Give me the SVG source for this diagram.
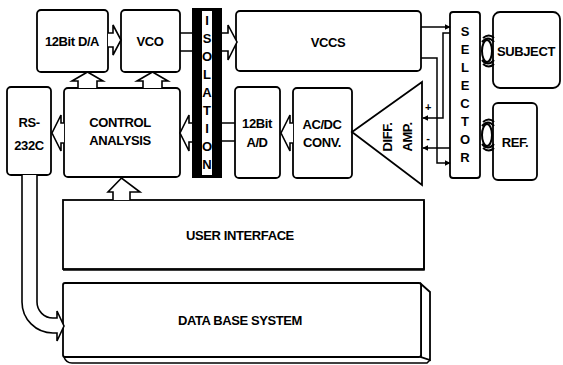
<svg xmlns="http://www.w3.org/2000/svg" width="563" height="365" viewBox="0 0 563 365">
<style>
.box{fill:#fff;stroke:#000;stroke-width:1.8}
.t{font-family:"Liberation Sans",Arial,sans-serif;font-weight:bold;font-size:13px;fill:#000;text-anchor:middle;letter-spacing:-0.4px}
.fat{fill:#fff;stroke:#000;stroke-width:1.6;stroke-linejoin:miter}
.ln{fill:none;stroke:#000;stroke-width:1.5}
.vl{font-family:"Liberation Sans",Arial,sans-serif;font-weight:bold;font-size:13px;fill:#000;text-anchor:middle}
</style>
<defs>
<marker id="ah" viewBox="0 0 10 10" refX="9" refY="5" markerWidth="6" markerHeight="6" orient="auto" markerUnits="userSpaceOnUse">
<path d="M0,0 L10,5 L0,10 z" fill="#000"/>
</marker>
</defs>
<rect width="563" height="365" fill="#fff"/>

<g id="da"><rect class="box" x="37" y="10" width="71" height="62" rx="4"/><text class="t" x="72" y="46">12Bit D/A</text></g>
<g id="vco"><rect class="box" x="121" y="10" width="59" height="62" rx="4"/><text class="t" x="150" y="46">VCO</text></g>
<g id="isolation">
<rect x="192" y="8" width="30" height="170" fill="#000"/>
<rect x="202" y="11" width="10" height="164" fill="#fff"/>
<text class="vl" x="207" y="25">I</text><text class="vl" x="207" y="43">S</text><text class="vl" x="207" y="61">O</text><text class="vl" x="207" y="79">L</text><text class="vl" x="207" y="97">A</text><text class="vl" x="207" y="115">T</text><text class="vl" x="207" y="133">I</text><text class="vl" x="207" y="151">O</text><text class="vl" x="207" y="169">N</text>
</g>
<g id="vccs"><rect class="box" x="236" y="11" width="185" height="60" rx="4"/><text class="t" x="328" y="47">VCCS</text></g>
<g id="rs232c"><rect class="box" x="7" y="87" width="44" height="88" rx="4"/><text class="t" x="29" y="127">RS-</text><text class="t" x="29" y="150">232C</text></g>
<g id="control"><rect class="box" x="64" y="88" width="116" height="89" rx="4"/><text class="t" x="120" y="127">CONTROL</text><text class="t" x="120" y="145">ANALYSIS</text></g>
<g id="ad"><rect class="box" x="235" y="87" width="45" height="91" rx="4"/><text class="t" x="257" y="128">12Bit</text><text class="t" x="257" y="147">A/D</text></g>
<g id="acdc"><rect class="box" x="293" y="88" width="59" height="90" rx="4"/><text class="t" x="322" y="129">AC/DC</text><text class="t" x="322" y="147">CONV.</text></g>
<g id="diffamp"><path class="box" d="M352,132 L422,82 L422,185 Z" stroke-linejoin="miter"/>
<text class="t" transform="translate(392,137) rotate(-90)" x="0" y="0">DIFF.</text>
<text class="t" transform="translate(412,137) rotate(-90)" x="0" y="0">AMP.</text>
<text class="t" x="428" y="111" style="font-size:11px">+</text>
<text class="t" x="428" y="142" style="font-size:11px">-</text>
</g>
<g id="selector"><rect class="box" x="450" y="12" width="30" height="166" rx="3"/>
<text class="vl" x="465" y="36">S</text><text class="vl" x="465" y="54">E</text><text class="vl" x="465" y="72">L</text><text class="vl" x="465" y="90">E</text><text class="vl" x="465" y="108">C</text><text class="vl" x="465" y="126">T</text><text class="vl" x="465" y="144">O</text><text class="vl" x="465" y="162">R</text>
</g>
<g id="subject"><rect class="box" x="493" y="12" width="67" height="76" rx="7"/><text class="t" x="526" y="56">SUBJECT</text></g>
<g id="ref"><rect class="box" x="493" y="103" width="44" height="77" rx="5"/><text class="t" x="515" y="147">REF.</text></g>
<g id="userinterface"><rect class="box" x="63" y="200" width="361" height="69"/>
<path class="ln" d="M424,201 V270 H63" stroke-width="3.2"/>
<text class="t" x="240" y="240">USER INTERFACE</text></g>
<g id="database">
<path class="box" d="M421,284 L430,292 L430,360 L421,357 Z"/>
<path class="ln" d="M64,357 Q66,363 72,363 H427 L430,360" stroke-width="1.8"/>
<rect class="box" x="63" y="283" width="358" height="74" rx="2"/>
<text class="t" x="240" y="325">DATA BASE SYSTEM</text></g>

<g id="connectors">
<path class="fat" d="M108,33 H113 V25 L121,40 L113,55 V47 H108"/>
<path class="fat" d="M180,33 H192 M180,51 H192"/>
<path class="fat" d="M222,33 H228 V25 L237,42 L228,60 V51 H222"/>
<path class="fat" d="M78,88 V81 H72 L87.5,72 L103,81 H97 V88"/>
<path class="fat" d="M143,88 V81 H137 L152.5,72 L168,81 H162 V88"/>
<path class="fat" d="M192,123 H189 V115 L180,133 L189,151 V142 H192"/>
<path class="fat" d="M222,123 H235 M222,141 H235"/>
<path class="fat" d="M293,123 H290 V115 L281,133 L290,151 V143 H293"/>
<path class="fat" d="M64,123 H61 V115 L52,133 L61,151 V143 H64"/>
<path class="fat" d="M113,200 V192 H108 L121.5,178 L140,192 H130 V200"/>
<path class="fat" d="M22,175 V302 A31,31 0 0 0 53,333 H57 V341 L64,326 L57,311 V318 H53 A16,16 0 0 1 37,302 V175"/>
<path class="ln" d="M421,27 H450" marker-end="url(#ah)"/>
<path class="ln" d="M421,58 H437 V163 H450" marker-end="url(#ah)"/>
<path class="ln" d="M450,33 H443 V118 H423" marker-end="url(#ah)"/>
<path class="ln" d="M450,148 H423" marker-end="url(#ah)"/>
<g fill="none" stroke="#000" stroke-width="2">
<ellipse cx="487" cy="51" rx="5" ry="11"/>
<path d="M482,42 Q488,35 494,42 M483,38 Q489,33 494,38 M482,60 Q488,67 494,60 M483,64 Q489,69 494,64"/>
<ellipse cx="487" cy="135" rx="5" ry="11"/>
<path d="M482,126 Q488,119 494,126 M483,122 Q489,117 494,122 M482,144 Q488,151 494,144 M483,148 Q489,153 494,148"/>
</g>
</g>
</svg>
